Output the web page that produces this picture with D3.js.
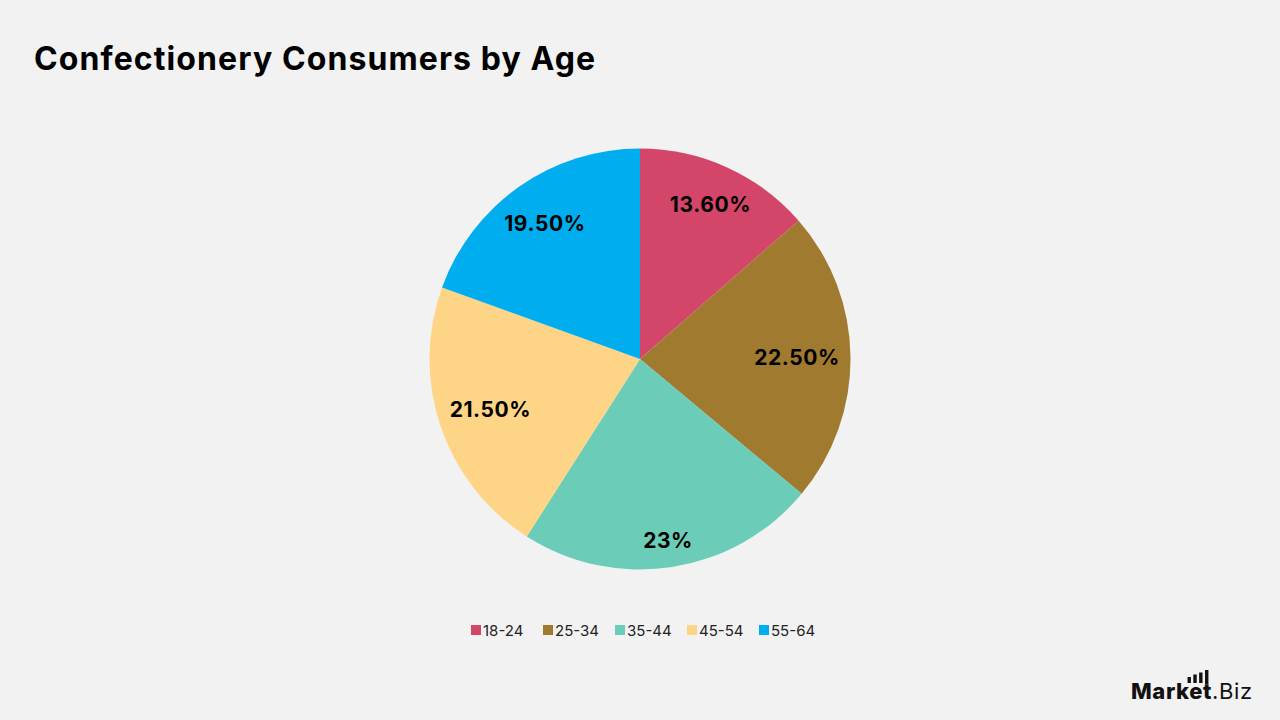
<!DOCTYPE html>
<html>
<head>
<meta charset="utf-8">
<script src="https://cdn.jsdelivr.net/npm/d3@7"></script>
<style>
  body { margin: 0; background: #f2f2f2; }
  svg { display: block; font-family: Inter, "Open Sans", sans-serif; }
</style>
</head>
<body>
<script>
// data
const ageGroups = ["18-24", "25-34", "35-44", "45-54", "55-64"];
const shares = [13.6, 22.5, 23, 21.5, 19.5];
const shareLabels = ["13.60%", "22.50%", "23%", "21.50%", "19.50%"];
const sliceColors = ["#d4456a", "#a07a2e", "#6bcdb8", "#fed586", "#00aeef"];

const w = 1280, h = 720;
const cx = 640, cy = 359, R = 210.5;

const svg = d3.select("body").append("svg")
  .attr("width", w)
  .attr("height", h)
  .style("background-color", "#f2f2f2");

// title
svg.append("text")
  .attr("x", 34)
  .attr("y", 70)
  .attr("font-size", 32)
  .attr("font-weight", 700)
  .attr("letter-spacing", 1.1)
  .attr("fill", "#000")
  .text("Confectionery Consumers by Age");

const color = d3.scaleOrdinal().domain(ageGroups).range(sliceColors);

const pie = d3.pie().sort(null).value(d => d.v);
const arcs = pie(ageGroups.map((g, i) => ({g: g, v: shares[i], label: shareLabels[i]})));

const arc = d3.arc().innerRadius(0).outerRadius(R);

const g = svg.append("g").attr("transform", "translate(" + cx + "," + cy + ")");

g.selectAll("path")
  .data(arcs)
  .enter()
  .append("path")
  .attr("d", arc)
  .attr("fill", d => color(d.data.g));

// labels pushed out as far as they fit inside the circle (like "best fit")
const labels = g.selectAll("text.lbl")
  .data(arcs)
  .enter()
  .append("text")
  .attr("class", "lbl")
  .attr("text-anchor", "middle")
  .attr("dominant-baseline", "central")
  .attr("font-size", 21)
  .attr("font-weight", 700)
  .attr("letter-spacing", 0.6)
  .attr("fill", "#000")
  .text(d => d.data.label);

labels.each(function(d) {
  const bb = this.getBBox();
  const hw = bb.width / 2, hh = 12;
  const a = (d.startAngle + d.endAngle) / 2;
  const sx = Math.sin(a), sy = -Math.cos(a);
  const limit = R - 10;
  let lo = 0, hi = R;
  for (let k = 0; k < 30; k++) {
    const r = (lo + hi) / 2;
    const x = sx * r, y = sy * r;
    const far = Math.hypot(Math.abs(x) + hw, Math.abs(y) + hh);
    if (far <= limit) lo = r; else hi = r;
  }
  d3.select(this).attr("x", sx * lo).attr("y", sy * lo);
});

// legend
const legendX = d3.scalePoint().domain(ageGroups).range([471, 759]);
const legend = svg.append("g");
const items = legend.selectAll("g")
  .data(ageGroups)
  .enter()
  .append("g")
  .attr("transform", d => "translate(" + legendX(d) + ",630)");

items.append("rect")
  .attr("x", 0)
  .attr("y", -5)
  .attr("width", 10)
  .attr("height", 10)
  .attr("fill", d => color(d));

items.append("text")
  .attr("x", 12)
  .attr("y", 0)
  .attr("dominant-baseline", "central")
  .attr("font-size", 15)
  .attr("fill", "#222")
  .text(d => d);

// logo
const logo = svg.append("g").attr("transform", "translate(1131,699)");
const logoText = logo.append("text")
  .attr("x", 0)
  .attr("y", 0)
  .attr("font-size", 22)
  .attr("fill", "#111");
logoText.append("tspan").attr("font-weight", 800).attr("letter-spacing", 0.6).text("Market");
logoText.append("tspan").attr("font-weight", 400).attr("letter-spacing", 0.6).text(".Biz");

// little bar icon sitting over "ke", tallest bar on the t stem
const tX = logoText.node().getStartPositionOfChar(5).x + 2;
const bars = [6, 8.5, 10.5];
logo.selectAll("rect.bar")
  .data(bars)
  .enter()
  .append("rect")
  .attr("class", "bar")
  .attr("x", (d, i) => tX - 17.5 + i * 5.8)
  .attr("y", d => -16 - d)
  .attr("width", 3.4)
  .attr("height", d => d)
  .attr("fill", "#111");
logo.append("rect")
  .attr("x", tX)
  .attr("y", -29)
  .attr("width", 3.4)
  .attr("height", 14)
  .attr("fill", "#111");
</script>
</body>
</html>
